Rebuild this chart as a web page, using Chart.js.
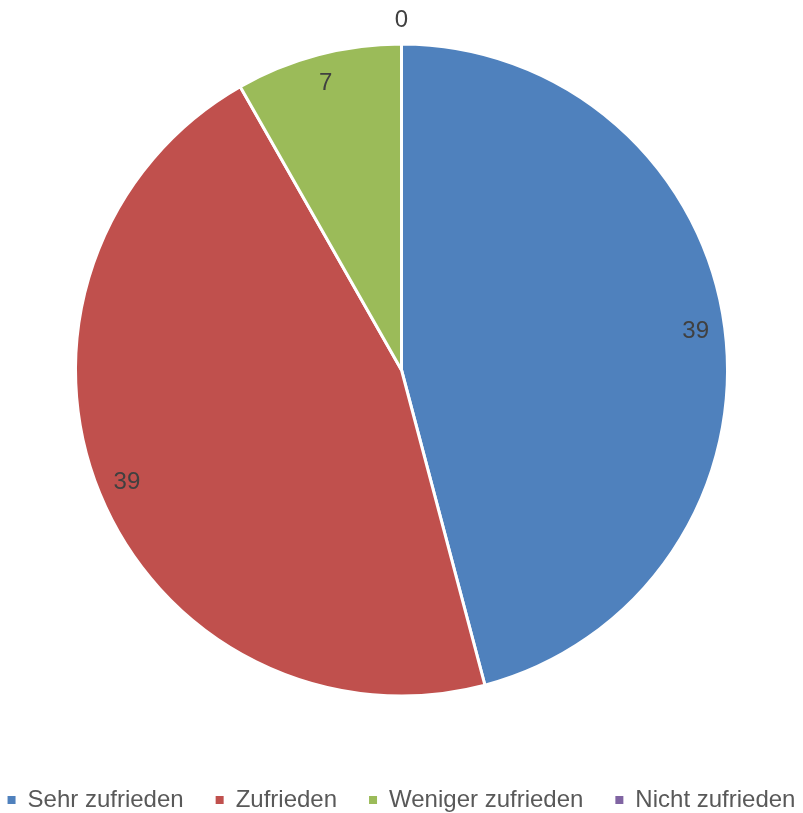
<!DOCTYPE html>
<html>
<head>
<meta charset="utf-8">
<script src="https://cdn.jsdelivr.net/npm/chart.js@4"></script>
<style>
    html, body { margin: 0; padding: 0; background: #fff; }
    #wrap { width: 803px; height: 813px; }
</style>
</head>
<body>
<div id="wrap"><canvas id="chart"></canvas></div>
<script>
const categories = ['Sehr zufrieden', 'Zufrieden', 'Weniger zufrieden', 'Nicht zufrieden'];
const values = [39, 39, 7, 0];
const colors = ['#4F81BD', '#C0504D', '#9BBB59', '#8064A2'];

// draws the value of each slice, zero slices go outside the pie
const valueLabels = {
    id: 'valueLabels',
    afterDatasetsDraw(chart) {
        const ctx = chart.ctx;
        const meta = chart.getDatasetMeta(0);
        ctx.save();
        ctx.font = '24px "Liberation Sans", Arial, sans-serif';
        ctx.fillStyle = '#404040';
        ctx.textAlign = 'center';
        ctx.textBaseline = 'middle';
        meta.data.forEach((arc, i) => {
            const mid = (arc.startAngle + arc.endAngle) / 2;
            const dist = values[i] === 0 ? arc.outerRadius + 24 : arc.outerRadius * 0.91;
            const x = arc.x + Math.cos(mid) * dist;
            const y = arc.y + Math.sin(mid) * dist;
            ctx.fillText(values[i], x, y);
        });
        ctx.restore();
    }
};

// nudge the pie up a little, the legend keeps its place
const raisePie = {
    id: 'raisePie',
    afterLayout(chart) {
        chart.chartArea.top -= 8;
        chart.chartArea.bottom -= 8;
    }
};

const chart = new Chart(document.getElementById('chart'), {
    type: 'pie',
    data: {
        labels: categories,
        datasets: [{
            data: values,
            backgroundColor: colors,
            borderColor: '#ffffff',
            borderWidth: 3,
            radius: 326
        }]
    },
    options: {
        responsive: true,
        maintainAspectRatio: false,
        animation: false,
        layout: {
            // wider than the canvas so the legend stays on one line
            padding: { top: 0, bottom: -9, left: -25, right: -25 }
        },
        plugins: {
            tooltip: { enabled: false },
            legend: {
                position: 'bottom',
                labels: {
                    usePointStyle: true,
                    pointStyle: 'rect',
                    boxWidth: 8,
                    boxHeight: 8,
                    padding: 32,
                    color: '#595959',
                    font: { family: '"Liberation Sans", Arial, sans-serif', size: 24 },
                    generateLabels(chart) {
                        const items = Chart.controllers.pie.overrides.plugins.legend.labels.generateLabels(chart);
                        items.forEach(item => { item.lineWidth = 0; });
                        return items;
                    }
                }
            }
        }
    },
    plugins: [valueLabels, raisePie]
});
</script>
</body>
</html>
